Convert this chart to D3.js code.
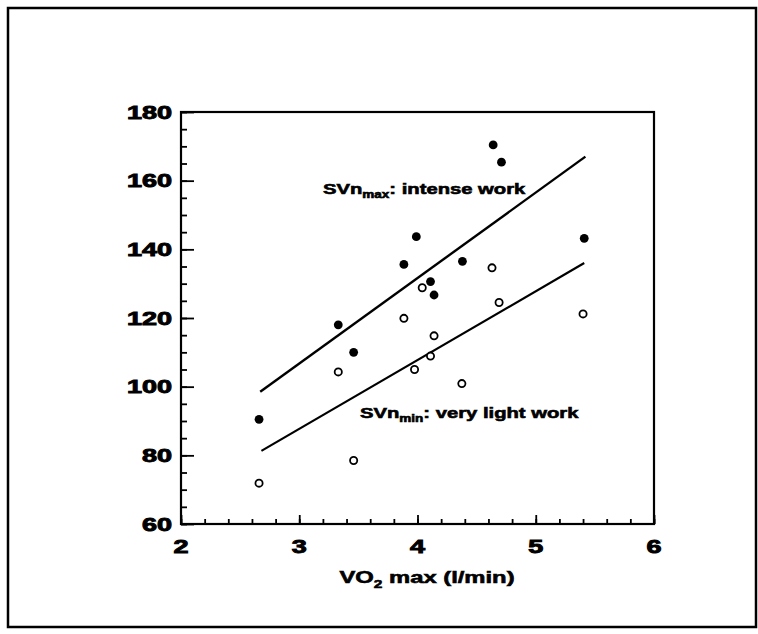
<!DOCTYPE html>
<html>
<head>
<meta charset="utf-8">
<script src="https://cdn.jsdelivr.net/npm/d3@7"></script>
<style>
  body { margin: 0; background: #fff; }
  text { font-family: "Liberation Sans", Arial, sans-serif; font-weight: bold; fill: #000; stroke: #000; }
</style>
</head>
<body>
<svg id="chart" width="758" height="634"></svg>
<script>
// filled dots: SVn max (intense work)
var maxVO2 = [2.66, 3.33, 3.46, 3.885, 3.99, 4.11, 4.14, 4.38, 4.64, 4.71, 5.41];
var maxSV = [90.5, 118, 110, 135.6, 143.7, 130.6, 126.7, 136.5, 170.4, 165.4, 143.2];

// open dots: SVn min (very light work)
var minVO2 = [2.66, 3.33, 3.46, 3.885, 3.975, 4.04, 4.11, 4.14, 4.375, 4.63, 4.69, 5.4];
var minSV = [71.9, 104.3, 78.5, 119.9, 105, 128.8, 108.9, 114.8, 100.9, 134.6, 124.5, 121.2];

// regression lines (end points)
var maxFitX = [2.67, 5.42];
var maxFitY = [98.5, 167];
var minFitX = [2.68, 5.41];
var minFitY = [81.3, 136];

// ticks
var xTicks = [2, 3, 4, 5, 6];
var yTicks = [60, 80, 100, 120, 140, 160, 180];

var svg = d3.select("#chart");

// outer frame
svg.append("rect")
  .attr("x", 8).attr("y", 8)
  .attr("width", 748).attr("height", 619)
  .attr("fill", "none")
  .attr("stroke", "#000")
  .attr("stroke-width", 2.5);

var x = d3.scaleLinear().domain([2, 6]).range([181, 654]);
var y = d3.scaleLinear().domain([60, 180]).range([524, 112]);

// plot box
svg.append("rect")
  .attr("x", x(2)).attr("y", y(180))
  .attr("width", x(6) - x(2)).attr("height", y(60) - y(180))
  .attr("fill", "none")
  .attr("stroke", "#000")
  .attr("stroke-width", 2.2);

// inward ticks, major and minor
function ticks(axis, values, size) {
  var g = svg.append("g").call(axis.tickValues(values).tickSize(size).tickFormat(""));
  g.select(".domain").remove();
  g.selectAll("line").attr("stroke", "#000").attr("stroke-width", 1.8);
  return g;
}
ticks(d3.axisTop(x), d3.range(2, 6.01, 0.2), 5).attr("transform", "translate(0," + y(60) + ")");
ticks(d3.axisTop(x), xTicks, 9).attr("transform", "translate(0," + y(60) + ")");
ticks(d3.axisRight(y), d3.range(60, 181, 5), 6).attr("transform", "translate(" + x(2) + ",0)");
ticks(d3.axisRight(y), yTicks, 13).attr("transform", "translate(" + x(2) + ",0)");

// tick labels (wide bold face, stretched horizontally)
svg.append("g").selectAll("text")
  .data(yTicks)
  .enter()
  .append("text")
  .attr("transform", (d) => "translate(172," + (y(d) + 6.5) + ") scale(1.5,1)")
  .attr("text-anchor", "end")
  .style("font-size", "18px")
  .style("stroke-width", 0.9)
  .text((d) => d);

svg.append("g").selectAll("text")
  .data(xTicks)
  .enter()
  .append("text")
  .attr("transform", (d) => "translate(" + x(d) + ",553) scale(1.5,1)")
  .attr("text-anchor", "middle")
  .style("font-size", "18px")
  .style("stroke-width", 0.9)
  .text((d) => d);

// axis title
var title = svg.append("text")
  .attr("transform", "translate(427,583) scale(1.4,1)")
  .attr("text-anchor", "middle")
  .style("font-size", "17px")
  .style("stroke-width", 0.6);
title.append("tspan").text("VO");
title.append("tspan").attr("dy", 5).style("font-size", "11px").text("2");
title.append("tspan").attr("dy", -5).text(" max (l/min)");

// regression lines
var line = d3.line()
  .x((d) => x(d[0]))
  .y((d) => y(d[1]));

svg.append("path")
  .datum(d3.zip(maxFitX, maxFitY))
  .attr("fill", "none")
  .attr("stroke", "#000")
  .attr("stroke-width", 2.4)
  .attr("d", line);

svg.append("path")
  .datum(d3.zip(minFitX, minFitY))
  .attr("fill", "none")
  .attr("stroke", "#000")
  .attr("stroke-width", 2.2)
  .attr("d", line);

// points
svg.append("g").selectAll("circle")
  .data(d3.zip(minVO2, minSV))
  .enter()
  .append("circle")
  .attr("cx", (d) => x(d[0]))
  .attr("cy", (d) => y(d[1]))
  .attr("r", 3.6)
  .attr("fill", "#fff")
  .attr("stroke", "#000")
  .attr("stroke-width", 1.8);

svg.append("g").selectAll("circle")
  .data(d3.zip(maxVO2, maxSV))
  .enter()
  .append("circle")
  .attr("cx", (d) => x(d[0]))
  .attr("cy", (d) => y(d[1]))
  .attr("r", 4.4)
  .attr("fill", "#000");

// line labels
function label(px, py, sub, rest) {
  var t = svg.append("text")
    .attr("transform", "translate(" + px + "," + py + ") scale(1.35,1)")
    .style("font-size", "15px")
    .style("stroke-width", 0.6);
  t.append("tspan").text("SVn");
  t.append("tspan").attr("dy", 4).style("font-size", "10px").text(sub);
  t.append("tspan").attr("dy", -4).text(rest);
}
label(323, 194, "max", ": intense work");
label(360, 418, "min", ": very light work");
</script>
</body>
</html>
